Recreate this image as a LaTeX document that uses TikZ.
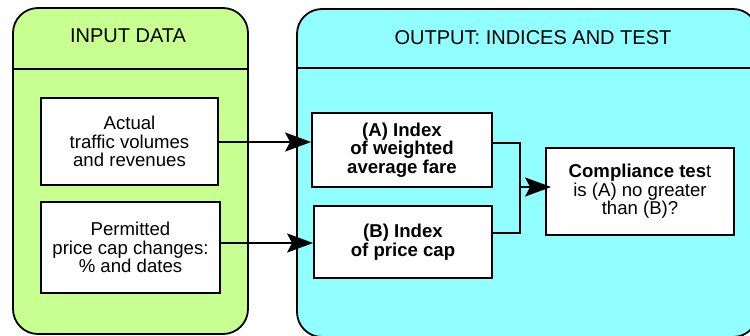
\documentclass[tikz,border=0pt]{standalone}
\usepackage{fontspec}
\setmainfont{Liberation Sans}
\usetikzlibrary{arrows.meta}
\definecolor{ingreen}{RGB}{200,255,145}
\definecolor{outcyan}{RGB}{145,255,255}
\tikzset{
  panel/.style={draw=black, line width=1.8pt, rounded corners=25pt},
  hdr/.style={font=\fontsize{20}{20}\selectfont, anchor=base, inner sep=0pt},
  box/.style={draw=black, fill=white, line width=1.8pt, align=center,
    font=\fontsize{18.6}{18.4}\selectfont, inner sep=0pt},
  bbox/.style={box, font=\fontsize{18.6}{18.4}\selectfont\bfseries},
  conn/.style={draw=black, line width=2pt},
  arr/.style={conn, -{Stealth[length=26pt, width=19pt, inset=5pt]}}
}
\begin{document}
\begin{tikzpicture}[x=1pt, y=-1pt]
\useasboundingbox (0,0) rectangle (750,335);
\clip (0,0) rectangle (750,335);
% panels
\draw[panel, fill=ingreen] (13,8) rectangle (248,334);
\draw[line width=1.8pt] (13,69) -- (248,69);
\draw[panel, fill=outcyan] (297,9) rectangle (758,337);
\draw[line width=1.8pt] (297,68) -- (758,68);
\node[hdr] (inhdr) at (128,42) {INPUT DATA};
\node[hdr] (outhdr) at (533,44) {OUTPUT: INDICES AND TEST};
% boxes
\node[box, minimum width=177pt, minimum height=87pt] (traffic) at (129.5,141.5)
  {Actual\\traffic volumes\\and revenues};
\node[box, minimum width=179pt, minimum height=91pt] (permit) at (130.5,247.5)
  {Permitted\\price cap changes:\\\% and dates};
\node[bbox, minimum width=180pt, minimum height=74pt] (idxa) at (402,150)
  {(A) Index\\of weighted\\average fare};
\node[bbox, minimum width=178pt, minimum height=72pt] (idxb) at (403,242)
  {(B) Index\\of price cap};
\node[box, minimum width=188pt, minimum height=87pt] (comp) at (640,191.5)
  {\textbf{Compliance tes}t\\is (A) no greater\\than (B)?};
% connectors
\coordinate (ja) at (520,143);
\coordinate (jb) at (520,233);
\coordinate (jm) at (520,187);
\draw[arr] ([yshift=-0.5pt]traffic.east) -- ([yshift=-0.5pt]traffic.east -| idxa.west);
\draw[arr] ([yshift=4.5pt]permit.east) -- ([yshift=4.5pt]permit.east -| idxb.west);
\draw[conn] (ja -| idxa.east) -- (ja) -- (jb) -- (jb -| idxb.east);
\draw[arr, shorten >=-6pt] (jm) -- (jm -| comp.west);
\end{tikzpicture}
\end{document}
